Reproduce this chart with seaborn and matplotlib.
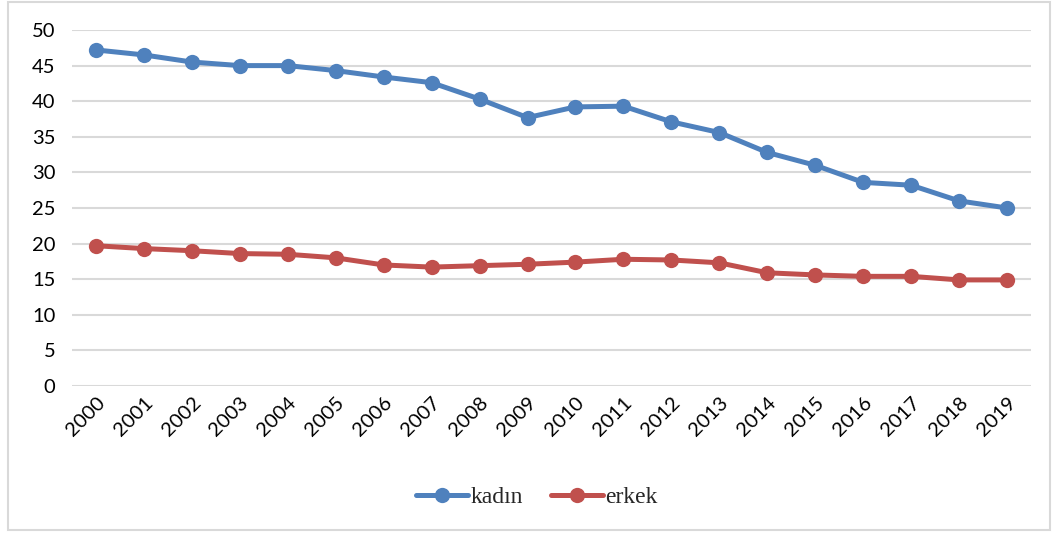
import matplotlib
matplotlib.use("Agg")
import matplotlib.pyplot as plt
from matplotlib.patches import Rectangle
from matplotlib.lines import Line2D
import seaborn as sns
import pandas as pd

years = [str(y) for y in range(2000, 2020)]
kadin = [47.2, 46.5, 45.5, 45.0, 45.0, 44.3, 43.4, 42.6, 40.3, 37.7,
         39.2, 39.3, 37.1, 35.6, 32.8, 31.0, 28.6, 28.2, 26.0, 25.0]
erkek = [19.7, 19.3, 19.0, 18.6, 18.5, 18.0, 17.0, 16.7, 16.9, 17.1,
         17.4, 17.8, 17.7, 17.3, 15.9, 15.6, 15.4, 15.4, 14.9, 14.9]
series_names = ["kadın", "erkek"]
colors = ["#4F81BD", "#C0504D"]

df = pd.DataFrame({
    "yil": years * 2,
    "deger": kadin + erkek,
    "grup": [series_names[0]] * len(years) + [series_names[1]] * len(years),
})
df["pos"] = list(range(len(years))) * 2

sns.set_style("white")
plt.rcParams["font.family"] = ["Lato", "DejaVu Sans"]

fig = plt.figure(figsize=(10.59, 5.38), dpi=100)
ax = fig.add_axes([72 / 1059, 1 - 386 / 538, (1031 - 72) / 1059, (386 - 30) / 538])

sns.lineplot(data=df, x="pos", y="deger", hue="grup", palette=colors,
             marker="o", markersize=11, markeredgewidth=0, linewidth=3.6,
             legend=False, ax=ax)

ax.set_xlim(-0.5, len(years) - 0.5)
ax.set_ylim(0, 50)
ax.set_yticks(range(0, 51, 5))
ax.set_xticks(range(len(years)))
ax.set_xticklabels(years, rotation=45, ha="right", rotation_mode="anchor")
ax.tick_params(axis="both", labelsize=14.5, colors="#000000", length=0)
ax.tick_params(axis="y", pad=12)
ax.tick_params(axis="x", pad=6)
ax.yaxis.grid(True, color="#D9D9D9", linewidth=1.5)
ax.xaxis.grid(False)
for s in ax.spines.values():
    s.set_visible(False)
ax.set_xlabel("")
ax.set_ylabel("")

handles = [Line2D([0], [0], color=c, linewidth=3.6, marker="o", markersize=11,
                  markeredgewidth=0) for c in colors]
fig.legend(handles, series_names, loc="center", bbox_to_anchor=(537 / 1059, 1 - 497 / 538),
           ncol=2, frameon=False, handlelength=2.2, handletextpad=0.1, columnspacing=1.2,
           prop={"family": "Liberation Serif", "size": 17})

fig.patches.append(Rectangle((8 / 1059, 8 / 538), (1050 - 8) / 1059, (536 - 8) / 538,
                             transform=fig.transFigure, fill=False,
                             edgecolor="#D9D9D9", linewidth=1.5))

fig.savefig("out.png", dpi=100, facecolor="white")
